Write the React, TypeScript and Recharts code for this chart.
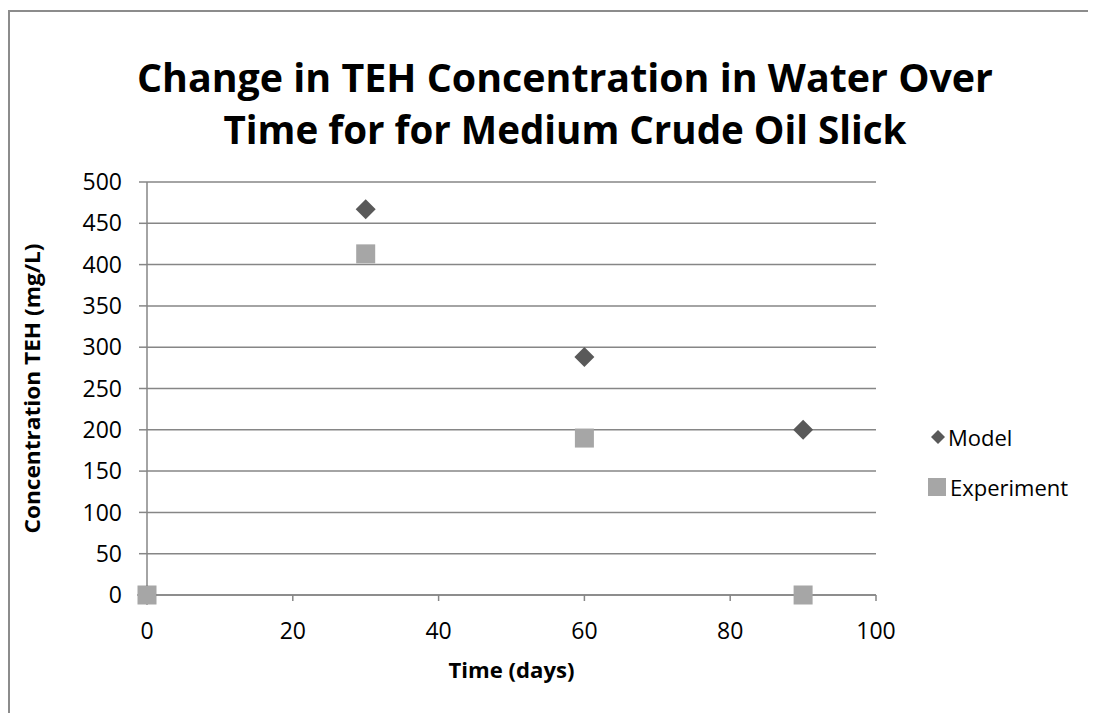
import React from "react";
import { ScatterChart, Scatter, XAxis, YAxis, CartesianGrid, Label } from "recharts";

const modelDays = [0, 30, 60, 90];
const modelValues = [0, 467, 288, 200];
const experimentDays = [0, 30, 60, 90];
const experimentValues = [0, 413, 190, 0];
const xTicks = [0, 20, 40, 60, 80, 100];
const yTicks = [0, 50, 100, 150, 200, 250, 300, 350, 400, 450, 500];
const titleLines = ["Change in TEH Concentration in Water Over", "Time for for Medium Crude Oil Slick"];
const seriesNames = ["Model", "Experiment"];

const modelData = modelDays.map((d, i) => ({ x: d, y: modelValues[i] }));
const experimentData = experimentDays.map((d, i) => ({ x: d, y: experimentValues[i] }));

const FONT = "'Open Sans', 'Liberation Sans', sans-serif";
const AXIS = "#868686";
const MODEL_COLOR = "#595959";
const EXP_COLOR = "#a6a6a6";

const Diamond = (props: any) => {
  const { cx, cy } = props;
  if (cx == null || cy == null) return null;
  const r = 10;
  return (
    <polygon
      points={`${cx},${cy - r} ${cx + r},${cy} ${cx},${cy + r} ${cx - r},${cy}`}
      fill={MODEL_COLOR}
    />
  );
};

const Square = (props: any) => {
  const { cx, cy } = props;
  if (cx == null || cy == null) return null;
  const h = 9.5;
  return <rect x={cx - h} y={cy - h} width={2 * h} height={2 * h} fill={EXP_COLOR} />;
};

const YLabel = (props: any) => {
  const vb = props.viewBox || {};
  const cy = vb.y + vb.height / 2;
  const cx = 24;
  return (
    <text
      x={cx}
      y={cy}
      transform={`rotate(-90, ${cx}, ${cy})`}
      textAnchor="middle"
      dominantBaseline="central"
      fontFamily={FONT}
      fontWeight={700}
      fontSize={21}
      textLength={290}
      lengthAdjust="spacingAndGlyphs"
      fill="#000"
    >
      Concentration TEH (mg/L)
    </text>
  );
};

const XLabel = (props: any) => {
  const vb = props.viewBox || {};
  const cx = vb.x + vb.width / 2;
  return (
    <text
      x={cx}
      y={662}
      textAnchor="middle"
      dominantBaseline="central"
      fontFamily={FONT}
      fontWeight={700}
      fontSize={21}
      textLength={126}
      lengthAdjust="spacingAndGlyphs"
      fill="#000"
    >
      Time (days)
    </text>
  );
};

export default function App() {
  return (
    <div style={{ position: "relative", width: 1088, height: 705, fontFamily: FONT }}>
      <div
        style={{
          position: "absolute",
          left: 0,
          top: 2,
          width: 1087,
          height: 720,
          border: "2px solid #8c8c8c",
          boxSizing: "border-box",
        }}
      />
      <svg width={1088} height={160} style={{ position: "absolute", left: 0, top: 0 }}>
        <text
          x={557}
          y={84}
          textAnchor="middle"
          fontFamily={FONT}
          fontWeight={700}
          fontSize={40}
          textLength={856}
          lengthAdjust="spacingAndGlyphs"
          fill="#000"
        >
          {titleLines[0]}
        </text>
        <text
          x={557}
          y={136}
          textAnchor="middle"
          fontFamily={FONT}
          fontWeight={700}
          fontSize={40}
          textLength={683}
          lengthAdjust="spacingAndGlyphs"
          fill="#000"
        >
          {titleLines[1]}
        </text>
      </svg>
      <div style={{ position: "absolute", left: 0, top: 0 }}>
        <ScatterChart width={1088} height={705} margin={{ top: 174, right: 220, bottom: 0, left: 0 }}>
          <CartesianGrid horizontal={true} vertical={false} stroke={AXIS} strokeWidth={1.5} />
          <XAxis
            type="number"
            dataKey="x"
            domain={[0, 100]}
            ticks={xTicks}
            interval={0}
            height={118}
            tickSize={6}
            tickMargin={22}
            stroke={AXIS}
            strokeWidth={1.5}
            tick={{ fill: "#000", fontSize: 23, fontFamily: FONT }}
          >
            <Label content={<XLabel />} />
          </XAxis>
          <YAxis
            type="number"
            dataKey="y"
            domain={[0, 500]}
            ticks={yTicks}
            interval={0}
            width={139}
            tickSize={8}
            tickMargin={17}
            stroke={AXIS}
            strokeWidth={1.5}
            tick={{ fill: "#000", fontSize: 23, fontFamily: FONT }}
          >
            <Label content={<YLabel />} />
          </YAxis>
          <Scatter name={seriesNames[0]} data={modelData} shape={<Diamond />} isAnimationActive={false} />
          <Scatter name={seriesNames[1]} data={experimentData} shape={<Square />} isAnimationActive={false} />
        </ScatterChart>
      </div>
      <div style={{ position: "absolute", left: 918, top: 414, fontFamily: FONT, fontSize: 22, color: "#000" }}>
        <div style={{ display: "flex", alignItems: "center", height: 30 }}>
          <svg width={16} height={16} style={{ marginRight: 2, marginLeft: 4 }}>
            <polygon points="8,1 15,8 8,15 1,8" fill={MODEL_COLOR} />
          </svg>
          <span>{seriesNames[0]}</span>
        </div>
        <div style={{ display: "flex", alignItems: "center", height: 30, marginTop: 20 }}>
          <svg width={18} height={18} style={{ marginRight: 4, marginLeft: 2 }}>
            <rect x={0} y={0} width={18} height={18} fill={EXP_COLOR} />
          </svg>
          <span>{seriesNames[1]}</span>
        </div>
      </div>
    </div>
  );
}
